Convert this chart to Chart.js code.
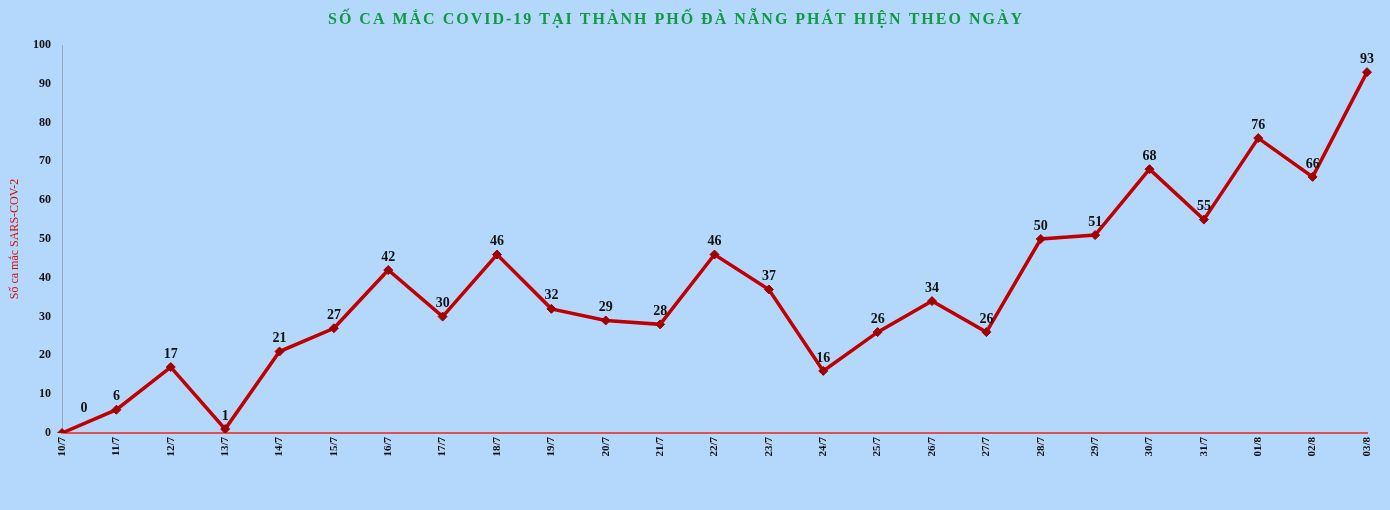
<!DOCTYPE html>
<html><head><meta charset="utf-8">
<script src="https://cdn.jsdelivr.net/npm/chart.js@4"></script>
<style>html,body{margin:0;padding:0;background:#b4d8fc;}#w{width:1390px;height:510px;}</style>
</head><body><div id="w"><canvas id="c"></canvas></div>
<script>
const TITLE = "SỐ CA MẮC COVID-19 TẠI THÀNH PHỐ ĐÀ NẴNG PHÁT HIỆN THEO NGÀY";
const Y_TITLE = "Số ca mắc SARS-COV-2";
const categories = ["10/7","11/7","12/7","13/7","14/7","15/7","16/7","17/7","18/7","19/7","20/7","21/7","22/7","23/7","24/7","25/7","26/7","27/7","28/7","29/7","30/7","31/7","01/8","02/8","03/8"];
const cases = [0,6,17,1,21,27,42,30,46,32,29,28,46,37,16,26,34,26,50,51,68,55,76,66,93];
const yTicks = [0,10,20,30,40,50,60,70,80,90,100];
const F = "'Liberation Serif', 'DejaVu Serif', serif";
const labelsPlugin = {
  id:'lbl',
  afterDatasetsDraw(ch){
    const ctx=ch.ctx, meta=ch.getDatasetMeta(0);
    ctx.save(); ctx.font="bold 14px "+F; ctx.fillStyle="#111"; ctx.textAlign="center"; ctx.textBaseline="bottom";
    meta.data.forEach((p,i)=>{ let x=p.x, y=p.y-6; if(i===0){x+=22;y-=12;} ctx.fillText(String(cases[i]),x,y); });
    ctx.font="bold 16px "+F; ctx.fillStyle="#119944"; ctx.textBaseline="middle";
    try{ctx.letterSpacing="2px";}catch(e){}
    ctx.fillText(TITLE,676,20);
    ctx.restore();
  }
};
new Chart(document.getElementById('c'),{
  type:'line',
  data:{labels:categories,datasets:[{data:cases,borderColor:'#c00000',backgroundColor:'#a00000',borderWidth:3.5,tension:0,pointStyle:'rectRot',pointRadius:4.5,pointBorderWidth:1,pointBorderColor:'#a00000'}]},
  options:{responsive:true,maintainAspectRatio:false,animation:false,
    layout:{padding:{top:45,right:23,left:0,bottom:0}},
    plugins:{legend:{display:false},tooltip:{enabled:false}},
    scales:{
      x:{offset:false,grid:{display:false,drawTicks:false},border:{color:'#e05050',width:2},
         ticks:{maxRotation:90,minRotation:90,autoSkip:false,padding:4,color:'#111',font:{family:F,size:11,weight:'bold'}},
         afterFit(s){s.height=77;}},
      y:{min:0,max:100,afterBuildTicks(s){s.ticks=yTicks.map(v=>({value:v}));},
         grid:{display:false,drawTicks:true,tickLength:5,tickColor:'#8899aa'},border:{color:'#98a8b8',width:1},
         ticks:{padding:6,color:'#111',font:{family:F,size:12,weight:'bold'}},
         title:{display:true,text:Y_TITLE,color:'#d01010',padding:{top:8,bottom:6},font:{family:F,size:12}},
         afterFit(s){s.width=62;}}
    }},
  plugins:[labelsPlugin]
});
</script></body></html>
